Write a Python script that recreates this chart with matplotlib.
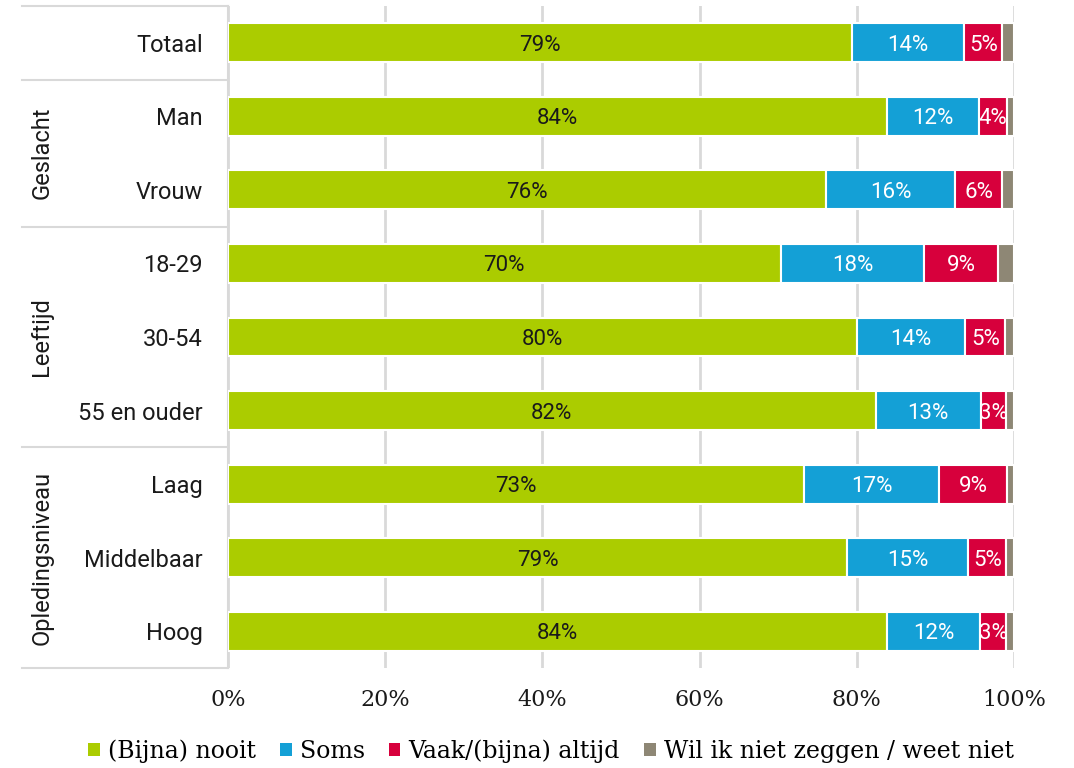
import matplotlib
matplotlib.use("Agg")
import matplotlib.pyplot as plt
import matplotlib.transforms as mtransforms
from matplotlib.patches import Patch
import numpy as np

# DATA
categories = ["Totaal", "Man", "Vrouw", "18-29", "30-54", "55 en ouder",
              "Laag", "Middelbaar", "Hoog"]
nooit = [79.4, 83.8, 76.1, 70.3, 80.0, 82.4, 73.3, 78.8, 83.8]
soms = [14.3, 11.7, 16.4, 18.3, 13.8, 13.4, 17.2, 15.4, 11.9]
vaak = [4.8, 3.6, 6.0, 9.4, 5.1, 3.2, 8.6, 4.8, 3.3]
weet = [1.5, 0.9, 1.5, 2.0, 1.1, 1.0, 0.9, 1.0, 1.0]

groups = ["Geslacht", "Leeftijd", "Opledingsniveau"]
group_rows = [(1, 2), (3, 5), (6, 8)]
separators = [-0.5, 0.5, 2.5, 5.5, 8.5]

series_names = ["(Bijna) nooit", "Soms", "Vaak/(bijna) altijd",
                "Wil ik niet zeggen / weet niet"]
colors = ["#ABCC00", "#14A0D6", "#D7003C", "#8E8775"]
text_colors = ["#1a1a1a", "white", "white", None]
xticks = [0, 20, 40, 60, 80, 100]

sans = ["Roboto", "DejaVu Sans"]
serif = ["DejaVu Serif"]
grid_col = "#D9D9D9"

# FIGUUR
fig = plt.figure(figsize=(10.74, 7.68), dpi=100)
ax = fig.add_axes([0.2123, 0.1302, 0.7318, 0.862])

y = np.arange(len(categories))
left = np.zeros(len(categories))
all_series = [nooit, soms, vaak, weet]

for vals, col, tcol in zip(all_series, colors, text_colors):
    vals = np.array(vals)
    bars = ax.barh(y, vals, left=left, height=0.53, color=col,
                   edgecolor="white", linewidth=1.5, zorder=3)
    if tcol is not None:
        for rect, v, l, yy in zip(bars, vals, left, y):
            t = ax.text(l + v / 2, yy, f"{round(v):.0f}%", ha="center",
                        va="center_baseline", color=tcol, fontsize=16,
                        family=sans, zorder=4)
            t.set_clip_path(rect)
    left = left + vals

ax.set_xlim(0, 100)
ax.set_ylim(8.5, -0.5)
ax.set_xticks(xticks)
ax.set_xticklabels([f"{v}%" for v in xticks], family=serif, fontsize=16,
                   color="#1a1a1a")
ax.set_yticks(y)
ax.set_yticklabels(categories, family=sans, fontsize=17, color="#1a1a1a")
ax.tick_params(axis="y", length=0, pad=18)
ax.tick_params(axis="x", length=0, pad=15)

ax.grid(axis="x", color=grid_col, linewidth=2, zorder=0)
ax.set_axisbelow(True)
for s in ["top", "right", "bottom"]:
    ax.spines[s].set_visible(False)
ax.spines["left"].set_color(grid_col)
ax.spines["left"].set_linewidth(1.5)

# GROEPEN LINKS
trans = mtransforms.blended_transform_factory(ax.transAxes, ax.transData)
for s in separators:
    ax.plot([-0.262, 0], [s, s], transform=trans, color=grid_col,
            linewidth=1.5, clip_on=False)
for g, (a, b) in zip(groups, group_rows):
    ax.text(-0.237, (a + b) / 2, g, transform=trans, rotation=90,
            ha="center", va="center", fontsize=17, family=sans,
            color="#1a1a1a")

# LEGENDA
handles = [Patch(facecolor=c, edgecolor="none") for c in colors]
leg = fig.legend(handles, series_names, loc="lower center", ncol=4,
                 bbox_to_anchor=(0.513, -0.021), frameon=False,
                 prop={"family": serif, "size": 17},
                 handlelength=0.5, handleheight=0.5, handletextpad=0.35,
                 columnspacing=1.0)

fig.savefig("out.png", dpi=100)
